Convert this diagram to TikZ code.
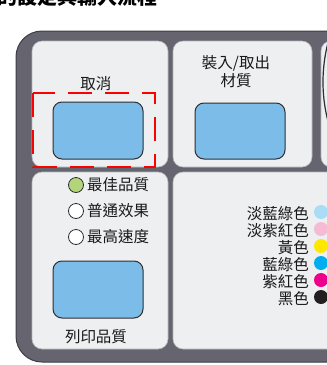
\documentclass[tikz,border=0pt]{standalone}
\usepackage{fontspec}
\setmainfont{Noto Sans CJK TC}
\newfontfamily\cjk{Noto Sans CJK TC}
\definecolor{darkpanel}{HTML}{65646F}
\definecolor{darkedge}{HTML}{3E3D47}
\definecolor{lightpanel}{HTML}{EEEFF1}
\definecolor{paneledge}{HTML}{B4B4BB}
\definecolor{btnblue}{HTML}{7BBDE8}
\definecolor{btnedge}{HTML}{2E2E33}
\definecolor{ledgreen}{HTML}{B3D57A}
\definecolor{inkc}{HTML}{A8DDF5}
\definecolor{inklm}{HTML}{F5BBD5}
\definecolor{inky}{HTML}{FFE800}
\definecolor{inkcy}{HTML}{00AEEF}
\definecolor{inkm}{HTML}{EC008C}
\definecolor{inkk}{HTML}{231F20}
\tikzset{
  panel/.style={fill=lightpanel, draw=paneledge, line width=0.6pt, rounded corners=10pt},
  button/.style={fill=btnblue, draw=btnedge, line width=1pt, rounded corners=9pt},
  lbl/.style={font=\cjk\fontsize{15.5}{18}\selectfont, text=black!90, inner sep=0pt},
  led/.style={circle, draw=btnedge, line width=0.8pt, minimum size=15pt, inner sep=0pt},
  inkdot/.style={circle, minimum size=14pt, inner sep=0pt},
  redbox/.style={draw=red, line width=2.8pt, dash pattern=on 24pt off 13pt}
}
\begin{document}
\begin{tikzpicture}[x=1pt,y=-1pt]
\useasboundingbox (0,0) rectangle (327,365);
\clip (0,0) rectangle (327,365);
% top heading, cut off by the picture's upper edge as in the reference
\node[anchor=base west, inner sep=0pt, font=\cjk\bfseries\fontsize{20}{22}\selectfont] (head) at (-3,4.5) {的設定與輸入流程};
% outer dark body
\draw[fill=darkpanel, draw=darkedge, line width=1pt, rounded corners=26pt]
  (420,31) -- (16,31) -- (16,362) -- (420,362);
% panels
\draw[panel] (32,41) rectangle (168,167);
\draw[panel] (173,41) rectangle (312,167);
\draw[panel] (321,41) rectangle (420,167);
\draw[panel] (32,172) rectangle (168,349);
\draw[panel] (173,172) rectangle (420,349);
% round element on the right panel
\draw[btnedge, line width=1.2pt] (478,82) circle[radius=155];
% cancel
\node[lbl] (cancel) at (96,84) {取消};
\draw[button] (53,102) rectangle (143,159);
% load/eject
\node[lbl, align=center] (load) at (236,72) {裝入/取出\\材質};
\draw[button] (195,103) rectangle (285,159);
% quality LEDs
\node[led, fill=ledgreen] (l1) at (76,185) {};
\node[led, fill=white] (l2) at (76,211) {};
\node[led, fill=white] (l3) at (76,237) {};
\node[lbl, anchor=west] (t1) at (87,185) {最佳品質};
\node[lbl, anchor=west] (t2) at (87,211) {普通效果};
\node[lbl, anchor=west] (t3) at (87,237) {最高速度};
\draw[button] (53,261) rectangle (143,318);
\node[lbl] (pq) at (96,337) {列印品質};
% ink list
\node[lbl, anchor=east] (c1) at (309,214) {淡藍綠色};
\node[lbl, anchor=east] (c2) at (309,231) {淡紫紅色};
\node[lbl, anchor=east] (c3) at (309,248) {黃色};
\node[lbl, anchor=east] (c4) at (309,265) {藍綠色};
\node[lbl, anchor=east] (c5) at (309,282) {紫紅色};
\node[lbl, anchor=east] (c6) at (309,299) {黑色};
\node[inkdot, fill=inkc] (d1) at (321,212) {};
\node[inkdot, fill=inklm] (d2) at (321,229) {};
\node[inkdot, fill=inky] (d3) at (321,246) {};
\node[inkdot, fill=inkcy] (d4) at (321,263) {};
\node[inkdot, fill=inkm] (d5) at (321,280) {};
\node[inkdot, fill=inkk] (d6) at (321,297) {};
% red dashed highlight
\draw[redbox] (33,93) rectangle (155,167);
\end{tikzpicture}
\end{document}
